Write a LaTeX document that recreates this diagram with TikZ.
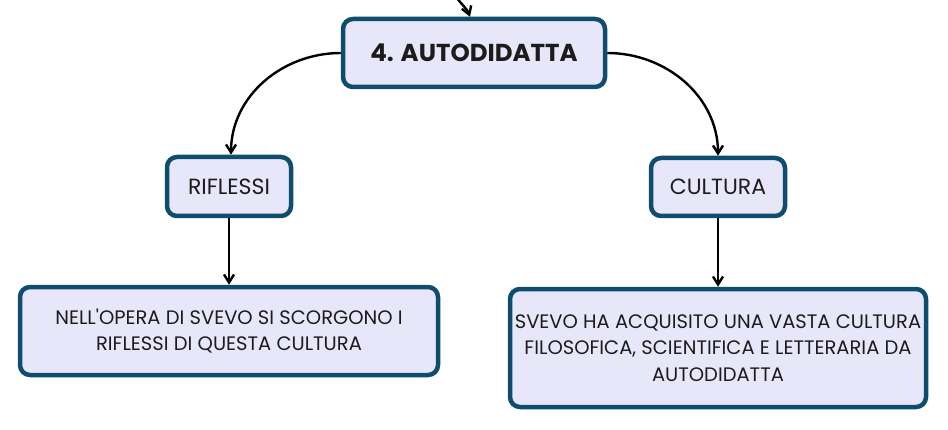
\documentclass[tikz,border=0pt]{standalone}
\usepackage{fontspec}
\setmainfont{Poppins}
\usepackage{tikz}
\usetikzlibrary{positioning}
\usetikzlibrary{arrows.meta}
\definecolor{bordo}{HTML}{0E4D6E}
\definecolor{lilla}{HTML}{E8E7FA}
\definecolor{testo}{HTML}{1C1C1C}

\begin{document}
\begin{tikzpicture}[x=1pt,y=1pt,
  box/.style={draw=bordo, fill=lilla, line width=4.5pt, rounded corners=10pt,
              align=center, inner sep=0pt, text=testo,
              font=\fontsize{19.5}{26.5}\selectfont},
  ramo/.style={box, font=\fontsize{22}{26}\selectfont},
  freccia/.style={-{Straight Barb[length=8pt,width=10pt]}, line width=2.4pt, black}]

  \useasboundingbox (0,0) rectangle (948,429);

	%main node
  \node[box, minimum width=262, minimum height=68,
        font=\fontsize{24.5}{28}\selectfont\bfseries] (titolo) at (474,376) {4. AUTODIDATTA};
  \coordinate (su) at (457,431);

	%branches
  \node[ramo, minimum width=124, minimum height=59] (rif) at (229,242.5) {RIFLESSI};
  \node[ramo, minimum width=134, minimum height=58] (cult) at (718,242) {CULTURA};

	%notes
  \node[box, minimum width=418, minimum height=88] (nota1) at (229,98)
       {NELL\textquotesingle OPERA DI SVEVO SI SCORGONO I\\RIFLESSI DI QUESTA CULTURA};
  \node[box, minimum width=416, minimum height=118] (nota2) at (718,81)
       {SVEVO HA ACQUISITO UNA VASTA CULTURA\\FILOSOFICA, SCIENTIFICA E LETTERARIA DA\\AUTODIDATTA};

	%arrows
  \draw[freccia] (su) to[out=-55,in=110] ([xshift=-4pt]titolo.north);
  \draw[freccia] (titolo.west) to[out=180,in=90] ([xshift=2pt]rif.north);
  \draw[freccia] (titolo.east) to[out=0,in=90] (cult.north);
  \draw[freccia] (rif.south) -- (nota1.north -| rif.south);
  \draw[freccia] (cult.south) -- (nota2.north -| cult.south);

\end{tikzpicture}
\end{document}
